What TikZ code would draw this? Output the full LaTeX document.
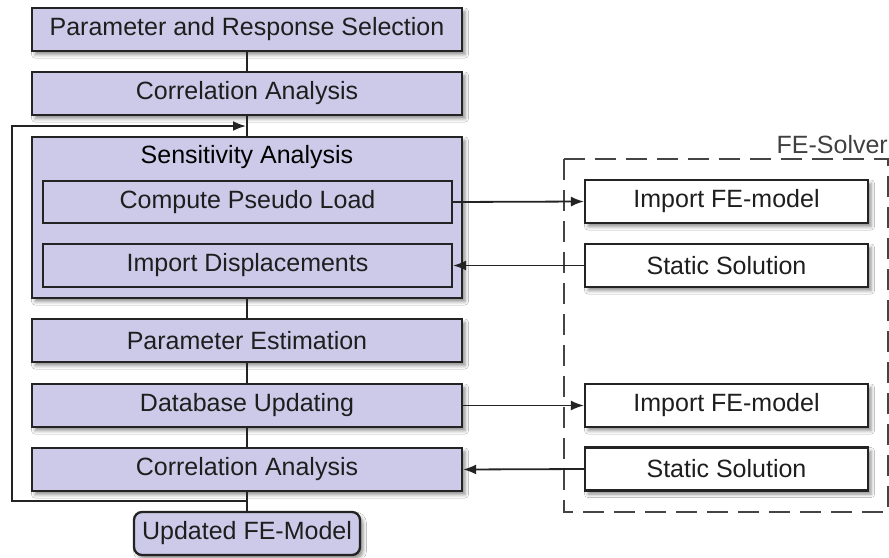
\documentclass[tikz,border=0pt]{standalone}
\usepackage{fontspec}
\setmainfont{Liberation Sans}
\usetikzlibrary{arrows.meta,shadows.blur}
\definecolor{boxfill}{HTML}{CCCAE8}
\definecolor{boxline}{HTML}{232323}
\definecolor{txt}{HTML}{1E1E1E}
\begin{document}
\begin{tikzpicture}[x=1pt,y=-1pt,
  font=\fontsize{25}{30}\selectfont,
  softshadow/.style={blur shadow={shadow xshift=3pt,shadow yshift=-3.5pt,shadow blur radius=3.5pt,shadow opacity=45}},
  stagebox/.style={draw=boxline,line width=2.3pt,fill=boxfill,inner sep=0pt,
    minimum width=430pt,minimum height=43pt,text=txt,softshadow},
  subbox/.style={draw=boxline,line width=2.1pt,fill=boxfill,inner sep=0pt,
    minimum width=409pt,minimum height=42pt,text=txt},
  solverbox/.style={draw=boxline,line width=2.1pt,fill=white,inner sep=0pt,
    minimum width=283pt,minimum height=43pt,text=txt,softshadow},
  link/.style={draw=boxline,line width=1.8pt},
  flow/.style={link,-{Latex[length=13pt,width=10pt]}}]
\useasboundingbox[fill=white] (0,0) rectangle (889,557);

% FE solver frame
\draw[boxline!85,line width=2pt,dash pattern=on 21pt off 10pt] (564,159) rectangle (888,512);
\node[anchor=base east,inner xsep=0pt,text=txt!85] (solver) at (888,153) {FE-Solver};

% main sequence
\node[stagebox] (sel) at (247,29.5) {Parameter and Response Selection};
\node[stagebox] (corA) at (247,93.5) {Correlation Analysis};
\node[stagebox,minimum height=161pt] (sens) at (247,217.5) {};
\node (senslabel) at (247,157) {Sensitivity Analysis};
\node[subbox] (load) at (247.5,202) {Compute Pseudo Load};
\node[subbox,minimum height=43pt] (disp) at (247.5,265.5) {Import Displacements};
\node[stagebox] (est) at (247,340.5) {Parameter Estimation};
\node[stagebox] (db) at (247,405.5) {Database Updating};
\node[stagebox] (corB) at (247,469.5) {Correlation Analysis};
\node[stagebox,minimum width=226pt,rounded corners=8pt] (upd) at (247,533.5) {Updated FE-Model};

% solver steps
\node[solverbox] (impA) at (726.5,201.5) {Import FE-model};
\node[solverbox] (statA) at (726.5,265.5) {Static Solution};
\node[solverbox] (impB) at (726.5,405.5) {Import FE-model};
\node[solverbox] (statB) at (726.5,469) {Static Solution};

% vertical chain
\draw[link] (sel.south) -- (corA.north);
\draw[link] (corA.south) -- (sens.north);
\draw[link] (sens.south) -- (est.north);
\draw[link] (est.south) -- (db.north);
\draw[link] (db.south) -- (corB.north);
\draw[link] (corB.south) -- (upd.north);

% iteration loop
\coordinate (loopout) at (247,501);
\coordinate (loopin) at (246,126);
\draw[flow] (loopout) -- (12,501) -- (12,126) -- (loopin);

% data exchange with the solver
\draw[flow] (load.east) -- (impA.west);
\draw[flow] (statA.west) -- (disp.east);
\draw[flow] (db.east) -- (impB.west);
\draw[flow] (statB.west) -- (corB.east);
\end{tikzpicture}
\end{document}
